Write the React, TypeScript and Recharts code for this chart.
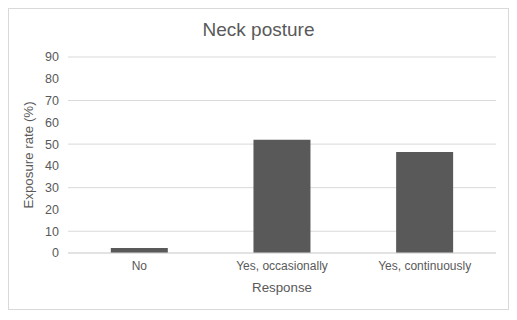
import React from "react"
import { BarChart, Bar, XAxis, YAxis, CartesianGrid } from "recharts"

const categories = ["No", "Yes, occasionally", "Yes, continuously"]
const exposureRates = [2.3, 52, 46.4]
const yTicks = [0, 10, 20, 30, 40, 50, 60, 70, 80, 90]

const chartData = categories.map((response, i) => ({ response, rate: exposureRates[i] }))

const textColor = "#595959"
const gridColor = "#d9d9d9"

const App: React.FC = () => {
  return (
    <div
      style={{
        position: "relative",
        width: 499,
        height: 300,
        border: `1px solid ${gridColor}`,
        fontFamily: "'Liberation Sans', Arial, sans-serif",
        background: "#fff",
      }}
    >
      <div
        style={{
          position: "absolute",
          top: 9,
          left: 0,
          width: "100%",
          textAlign: "center",
          fontSize: 19,
          color: textColor,
          lineHeight: "24px",
        }}
      >
        Neck posture
      </div>
      <BarChart
        width={499}
        height={300}
        data={chartData}
        barCategoryGap="30%"
        margin={{ top: 48, right: 12, left: 0, bottom: 0 }}
      >
        <CartesianGrid vertical={false} stroke={gridColor} />
        <XAxis
          dataKey="response"
          height={56}
          axisLine={{ stroke: gridColor }}
          tickLine={false}
          tick={{ fill: textColor, fontSize: 12 }}
          label={{
            value: "Response",
            position: "insideBottom",
            offset: 17,
            fill: textColor,
            fontSize: 13.3,
          }}
        />
        <YAxis
          width={59}
          domain={[0, 90]}
          ticks={yTicks}
          axisLine={false}
          tickLine={false}
          tickMargin={3}
          tick={{ fill: textColor, fontSize: 12.5 }}
          label={{
            value: "Exposure rate (%)",
            angle: -90,
            position: "insideLeft",
            offset: 19,
            fill: textColor,
            fontSize: 13.3,
            style: { textAnchor: "middle" },
          }}
        />
        <Bar dataKey="rate" fill="#595959" isAnimationActive={false} />
      </BarChart>
    </div>
  )
}

export default App
